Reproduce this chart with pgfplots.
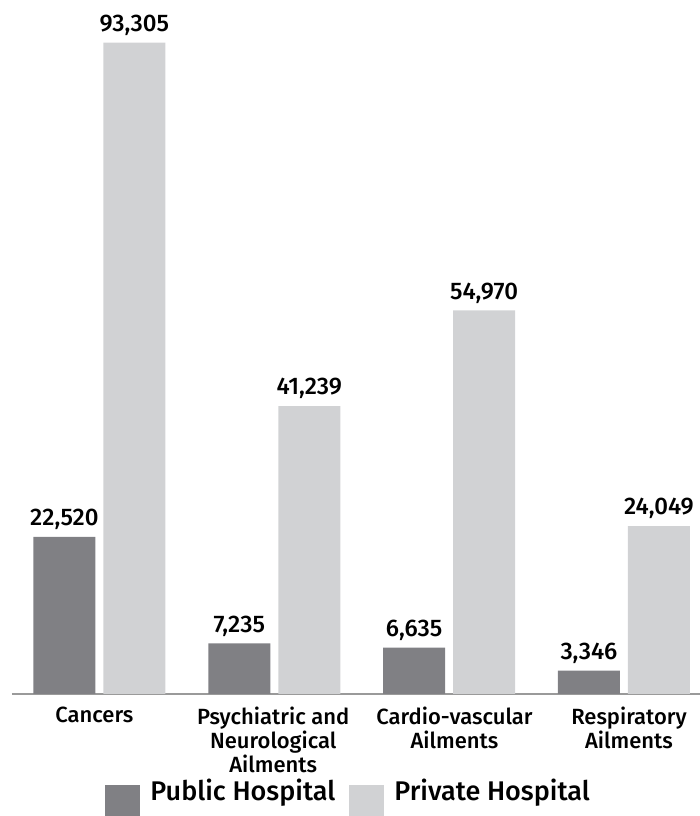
\documentclass[border=0pt]{standalone}
\usepackage{pgfplots}
\pgfplotsset{compat=1.18}
\usepackage{fontspec}
\setmainfont{Fira Sans}[UprightFont={* Medium}]

\definecolor{publicbar}{HTML}{808084}
\definecolor{privatebar}{HTML}{D1D2D4}
\definecolor{baseline}{HTML}{9A9A9A}

\begin{document}
\begin{tikzpicture}
\useasboundingbox (0,0) rectangle (350pt,408pt);
\begin{axis}[
  at={(6pt,61pt)}, anchor=south west,
  scale only axis,
  width=344pt, height=347pt,
  xmin=-0.5, xmax=3.435,
  ymin=0, ymax=99430,
  ybar,
  axis x line*=bottom,
  axis y line=none,
  x axis line style={-, draw=baseline, line width=0.8pt},
  % category names sit slightly off the group centres
  xtick={-0.029, 0.994, 2.031, 3.029},
  xticklabels={Cancers, {Psychiatric and\\Neurological\\Ailments}, {Cardio-vascular\\Ailments}, {Respiratory\\Ailments}},
  xticklabel style={align=center, font=\fontsize{11}{12}\selectfont, yshift=-3pt},
  major tick length=0pt,
  ytick=\empty,
  bar width=31pt,
  nodes near coords={\pgfmathprintnumber[fixed, precision=0, 1000 sep={,}, assume math mode=true]{\pgfplotspointmeta}},
  every node near coord/.append style={font=\fontsize{12}{14}\selectfont, text=black},
  legend style={at={(0.1352,-0.1164)}, anchor=north west, draw=none, fill=none,
    legend columns=2, inner sep=0pt, font=\fontsize{13.5}{16}\selectfont,
    /tikz/every even column/.append style={column sep=5pt}},
  legend image code/.code={\fill[#1] (0pt,-14pt) rectangle (17.5pt,3pt); \path (20.5pt,0pt);},
]
\addplot[bar shift=-17.5pt, fill=publicbar, draw=none]
  coordinates {(0,22520) (1,7235) (2,6635) (3,3346)};
\addlegendentry{Public Hospital}
\addplot[bar shift=17.5pt, fill=privatebar, draw=none]
  coordinates {(0,93305) (1,41239) (2,54970) (3,24049)};
\addlegendentry{Private Hospital}
\end{axis}
\end{tikzpicture}
\end{document}
